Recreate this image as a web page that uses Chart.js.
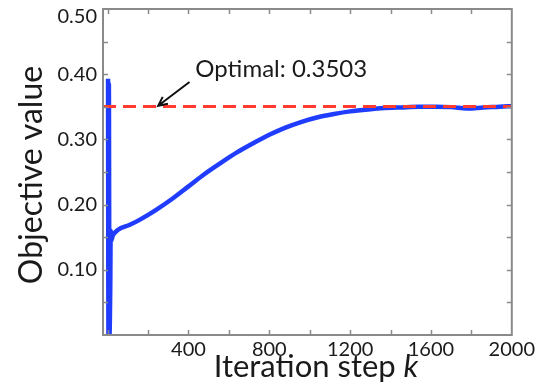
<!DOCTYPE html>
<html>
<head>
<meta charset="utf-8">
<script src="https://cdn.jsdelivr.net/npm/chart.js@4.4.1/dist/chart.umd.min.js"></script>
<style>
    html, body { margin: 0; padding: 0; background: #fff; }
    canvas { display: block; }
</style>
</head>
<body>
<canvas id="chart" width="538" height="384"></canvas>
<script>
/* Objective value vs iteration step, with the optimal value as a dashed line. */
var steps = [2, 4, 6, 9, 13, 15, 18, 25, 50, 110, 160, 240, 320, 400, 480, 560, 640, 720, 800,
    880, 960, 1040, 1120, 1200, 1290, 1370, 1450, 1540, 1620, 1700, 1780, 1860, 1940, 2000];
var objective = [0.393, 0.0, 0.385, 0.0, 0.075, 0.16, 0.145, 0.152, 0.161, 0.169, 0.177, 0.192, 0.209,
    0.228, 0.247, 0.264, 0.280, 0.294, 0.307, 0.318, 0.327, 0.334, 0.339, 0.343, 0.346, 0.348, 0.349,
    0.350, 0.350, 0.3495, 0.3475, 0.349, 0.350, 0.351];
var optimalValue = 0.3503;
var optimalLabel = "Optimal: 0.3503";
var xTicks = [0, 200, 400, 600, 800, 1000, 1200, 1400, 1600, 1800, 2000];
var xLabelTicks = [400, 800, 1200, 1600, 2000];
var yTicks = [0, 0.05, 0.10, 0.15, 0.20, 0.25, 0.30, 0.35, 0.40, 0.45, 0.50];
var yLabelTicks = [0.10, 0.20, 0.30, 0.40, 0.50];

(function () {
    "use strict";

    var FONT = "Lato, 'Open Sans', sans-serif";
    var BLUE = "#1f3cff";
    var RED = "#ff3b2f";
    var FRAME = "#8a8a8a";
    var INK = "#1a1a1a";

    function $(id) { return document.getElementById(id); }

    function hasTick(list, v) {
        return list.some(function (t) { return Math.abs(t - v) < 1e-6; });
    }

    function fixedTicks(list) {
        return function (scale) {
            scale.ticks = list.map(function (v) { return { value: v }; });
        };
    }

    var framePlugin = {
        id: "frame",
        afterDatasetsDraw: function (chart) {
            var ctx = chart.ctx, a = chart.chartArea;
            var sx = chart.scales.x, sy = chart.scales.y;
            ctx.save();

            // ticks pointing inward on all four sides
            ctx.strokeStyle = FRAME;
            ctx.lineWidth = 1.5;
            ctx.beginPath();
            sx.ticks.forEach(function (t) {
                var px = Math.round(sx.getPixelForValue(t.value)) + 0.5;
                if (px <= a.left + 2 || px >= a.right - 2) return;
                ctx.moveTo(px, a.bottom); ctx.lineTo(px, a.bottom - 5);
                ctx.moveTo(px, a.top); ctx.lineTo(px, a.top + 5);
            });
            sy.ticks.forEach(function (t) {
                var py = Math.round(sy.getPixelForValue(t.value)) + 0.5;
                if (py <= a.top + 2 || py >= a.bottom - 2) return;
                ctx.moveTo(a.left, py); ctx.lineTo(a.left + 5, py);
                ctx.moveTo(a.right, py); ctx.lineTo(a.right - 5, py);
            });
            ctx.stroke();

            ctx.lineWidth = 2;
            ctx.strokeRect(a.left, a.top, a.right - a.left, a.bottom - a.top);

            // y tick labels (top one kept inside the canvas, as in the source figure)
            ctx.fillStyle = INK;
            ctx.font = "20px " + FONT;
            ctx.textAlign = "right";
            ctx.textBaseline = "middle";
            sy.ticks.forEach(function (t) {
                if (!hasTick(yLabelTicks, t.value)) return;
                var py = Math.max(sy.getPixelForValue(t.value), a.top + 8);
                ctx.fillText(t.value.toFixed(2), a.left - 6, py);
            });

            // annotation: text + arrow to the optimal line
            ctx.font = "24px " + FONT;
            ctx.textAlign = "left";
            ctx.fillText(optimalLabel, sx.getPixelForValue(434), sy.getPixelForValue(0.408));

            var x1 = sx.getPixelForValue(405), y1 = sy.getPixelForValue(0.388);
            var x2 = sx.getPixelForValue(250), y2 = sy.getPixelForValue(0.3515);
            var ang = Math.atan2(y2 - y1, x2 - x1);
            ctx.strokeStyle = "#111";
            ctx.lineWidth = 2;
            ctx.beginPath();
            ctx.moveTo(x1, y1); ctx.lineTo(x2, y2);
            ctx.moveTo(x2 - 10 * Math.cos(ang - 0.45), y2 - 10 * Math.sin(ang - 0.45));
            ctx.lineTo(x2, y2);
            ctx.lineTo(x2 - 10 * Math.cos(ang + 0.45), y2 - 10 * Math.sin(ang + 0.45));
            ctx.stroke();

            // axis titles
            ctx.font = "32px " + FONT;
            ctx.textAlign = "center";
            ctx.textBaseline = "middle";
            ctx.save();
            ctx.translate(32, 175);
            ctx.rotate(-Math.PI / 2);
            ctx.fillText("Objective value", 0, 0);
            ctx.restore();

            var main = "Iteration step ";
            ctx.textBaseline = "alphabetic";
            ctx.textAlign = "left";
            ctx.font = "31px " + FONT;
            var w1 = ctx.measureText(main).width;
            ctx.font = "italic 31px " + FONT;
            var w2 = ctx.measureText("k").width;
            var left = 316 - (w1 + w2) / 2;
            ctx.font = "31px " + FONT;
            ctx.fillText(main, left, 377);
            ctx.font = "italic 31px " + FONT;
            ctx.fillText("k", left + w1, 377);

            ctx.restore();
        }
    };

    function build() {
        var pts = steps.map(function (s, i) { return { x: s, y: objective[i] }; });
        var optPts = [{ x: -23, y: optimalValue }, { x: 2000, y: optimalValue }];

        new Chart($("chart"), {
            type: "line",
            data: {
                datasets: [
                    { data: pts, borderColor: BLUE, borderWidth: 4.5, pointRadius: 0, order: 1,
                      cubicInterpolationMode: "monotone", fill: false },
                    { data: optPts, borderColor: RED, borderWidth: 3, borderDash: [13, 7],
                      pointRadius: 0, order: 0, fill: false }
                ]
            },
            options: {
                responsive: false,
                animation: false,
                events: [],
                layout: { padding: { top: 9, right: 24, left: 0, bottom: 0 } },
                plugins: { legend: { display: false }, tooltip: { enabled: false } },
                scales: {
                    x: {
                        type: "linear", min: -23, max: 2000,
                        grid: { display: false, drawTicks: false },
                        border: { display: false },
                        afterBuildTicks: fixedTicks(xTicks),
                        afterFit: function (s) { s.height = 49; },
                        ticks: {
                            autoSkip: false, maxRotation: 0, padding: 3, color: INK,
                            font: { family: FONT, size: 20 },
                            callback: function (v) { return hasTick(xLabelTicks, v) ? String(v) : ""; }
                        }
                    },
                    y: {
                        type: "linear", min: 0, max: 0.5,
                        grid: { display: false, drawTicks: false },
                        border: { display: false },
                        afterBuildTicks: fixedTicks(yTicks),
                        afterFit: function (s) { s.width = 103; },
                        ticks: { display: false }
                    }
                }
            },
            plugins: [framePlugin]
        });
    }

    build();
})();
</script>
</body>
</html>
